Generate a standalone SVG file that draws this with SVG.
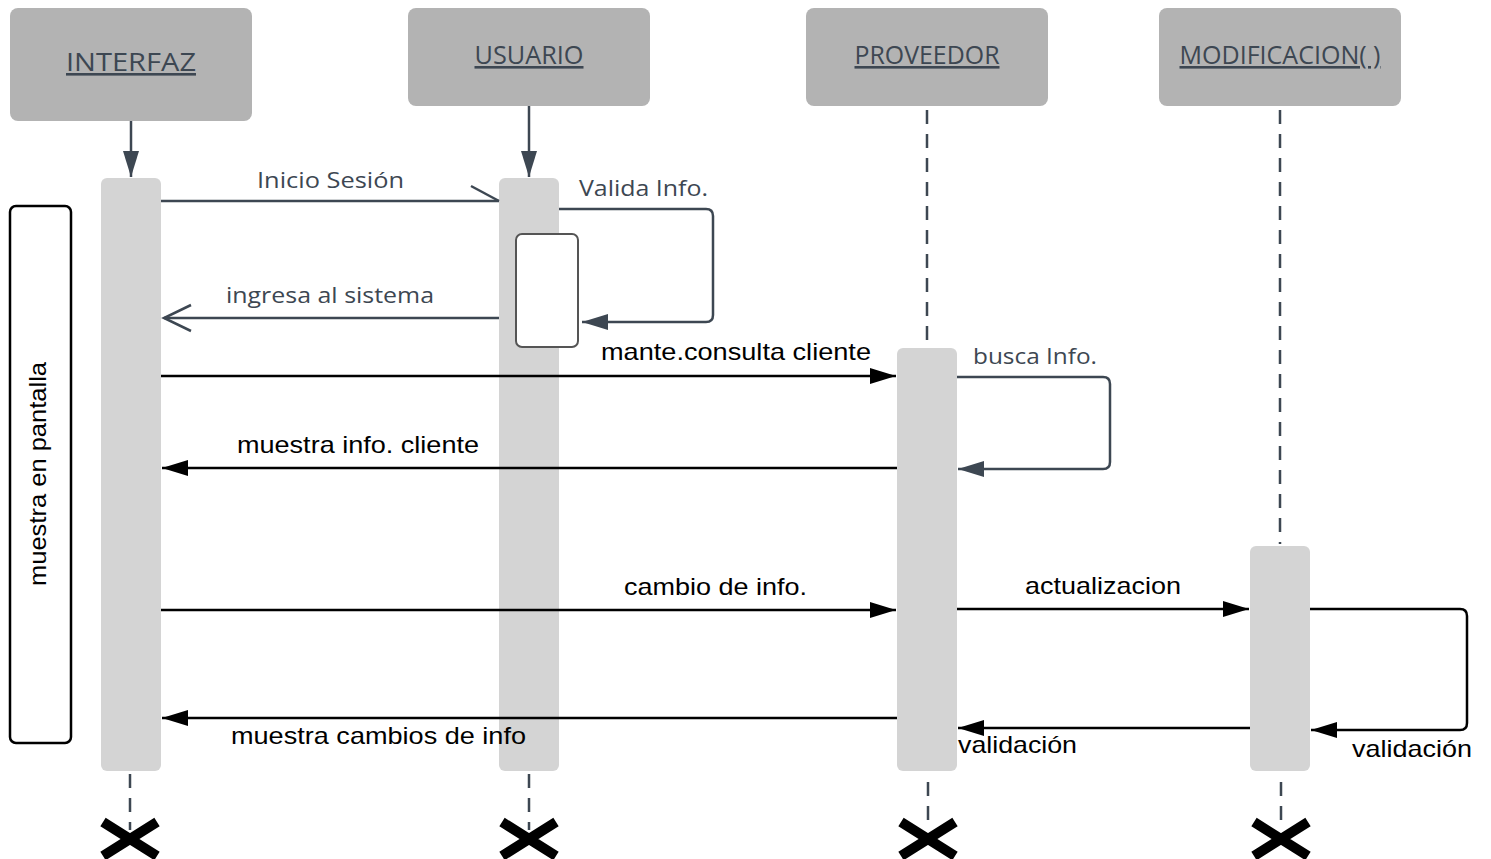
<svg xmlns="http://www.w3.org/2000/svg" width="1491" height="859" viewBox="0 0 1491 859">
<defs>
<style>
.hdr{fill:#b3b3b3}
.ht{font-family:"Open Sans","DejaVu Sans",sans-serif;font-size:26px;fill:#3d4752;text-anchor:middle;text-decoration:underline}
.act{fill:#d4d4d4}
.sl{font-family:"Open Sans","DejaVu Sans",sans-serif;font-size:22px;fill:#3d4752}
.bl{font-family:"Liberation Sans",Arial,sans-serif;font-size:24px;fill:#000}
.ls{stroke:#3d4752;stroke-width:2.5;fill:none}
.lb{stroke:#000;stroke-width:2.5;fill:none}
.dash{stroke:#3d4752;stroke-width:2.5;stroke-dasharray:14 10;fill:none}
</style>
<marker id="ab" markerWidth="28" markerHeight="18" refX="26" refY="9" orient="auto" markerUnits="userSpaceOnUse"><path d="M0,1 L26,9 L0,17 Z" fill="#000"/></marker>
<marker id="as" markerWidth="28" markerHeight="18" refX="26" refY="9" orient="auto" markerUnits="userSpaceOnUse"><path d="M0,1 L26,9 L0,17 Z" fill="#3d4752"/></marker>
</defs>
<rect width="1491" height="859" fill="#fff"/>

<g id="interfaz">
<rect class="hdr" x="10" y="8" width="242" height="113" rx="8"/>
<text class="ht" x="131" y="71" font-size="28" textLength="130" lengthAdjust="spacingAndGlyphs">INTERFAZ</text>
<rect class="act" x="101" y="178" width="60" height="593" rx="6"/>
</g>
<g id="usuario">
<rect class="hdr" x="408" y="8" width="242" height="98" rx="8"/>
<text class="ht" x="529" y="64" textLength="109" lengthAdjust="spacingAndGlyphs">USUARIO</text>
<rect class="act" x="499" y="178" width="60" height="593" rx="6"/>
<rect x="516" y="234" width="62" height="113" rx="6" fill="#fff" stroke="#555" stroke-width="2"/>
</g>
<g id="proveedor">
<rect class="hdr" x="806" y="8" width="242" height="98" rx="8"/>
<text class="ht" x="927" y="64" textLength="145" lengthAdjust="spacingAndGlyphs">PROVEEDOR</text>
<rect class="act" x="897" y="348" width="60" height="423" rx="6"/>
</g>
<g id="modificacion">
<rect class="hdr" x="1159" y="8" width="242" height="98" rx="8"/>
<text class="ht" x="1280" y="64" textLength="201" lengthAdjust="spacingAndGlyphs">MODIFICACION( )</text>
<rect class="act" x="1250" y="546" width="60" height="225" rx="6"/>
</g>
<g id="pantalla">
<rect x="10" y="206" width="61" height="537" rx="6" fill="#fff" stroke="#000" stroke-width="2.5"/>
<text class="bl" transform="translate(46,474) rotate(-90)" text-anchor="middle" textLength="224" lengthAdjust="spacingAndGlyphs">muestra en pantalla</text>
</g>

<g id="connectors">
<line class="ls" x1="131" y1="121" x2="131" y2="177" marker-end="url(#as)"/>
<line class="ls" x1="529" y1="106" x2="529" y2="177" marker-end="url(#as)"/>
<line class="dash" x1="927" y1="110" x2="927" y2="346"/>
<line class="dash" x1="1280" y1="110" x2="1280" y2="544"/>

<line class="ls" x1="161" y1="201" x2="499" y2="201"/>
<line class="ls" x1="471" y1="186" x2="499" y2="201"/>
<text class="sl" x="257" y="188" textLength="147" lengthAdjust="spacingAndGlyphs">Inicio Sesión</text>

<path class="ls" d="M559,209 H706 Q713,209 713,216 V315 Q713,322 706,322 H582" marker-end="url(#as)"/>
<text class="sl" x="579" y="196" textLength="129" lengthAdjust="spacingAndGlyphs">Valida Info.</text>

<line class="ls" x1="499" y1="318" x2="164" y2="318"/>
<path class="ls" d="M191,305 L164,318 L191,331"/>
<text class="sl" x="226" y="303" textLength="208" lengthAdjust="spacingAndGlyphs">ingresa al sistema</text>

<line class="lb" x1="161" y1="376" x2="896" y2="376" marker-end="url(#ab)"/>
<text class="bl" x="601" y="360" textLength="270" lengthAdjust="spacingAndGlyphs">mante.consulta cliente</text>

<path class="ls" d="M957,377 H1103 Q1110,377 1110,384 V462 Q1110,469 1103,469 H958" marker-end="url(#as)"/>
<text class="sl" x="973" y="364" textLength="124" lengthAdjust="spacingAndGlyphs">busca Info.</text>

<line class="lb" x1="897" y1="468" x2="162" y2="468" marker-end="url(#ab)"/>
<text class="bl" x="237" y="453" textLength="242" lengthAdjust="spacingAndGlyphs">muestra info. cliente</text>

<line class="lb" x1="161" y1="610" x2="896" y2="610" marker-end="url(#ab)"/>
<text class="bl" x="624" y="595" textLength="183" lengthAdjust="spacingAndGlyphs">cambio de info.</text>

<line class="lb" x1="957" y1="609" x2="1249" y2="609" marker-end="url(#ab)"/>
<text class="bl" x="1025" y="594" textLength="156" lengthAdjust="spacingAndGlyphs">actualizacion</text>

<path class="lb" d="M1310,609 H1460 Q1467,609 1467,616 V723 Q1467,730 1460,730 H1311" marker-end="url(#ab)"/>
<text class="bl" x="1352" y="757" textLength="120" lengthAdjust="spacingAndGlyphs">validación</text>

<line class="lb" x1="1250" y1="728" x2="958" y2="728" marker-end="url(#ab)"/>
<text class="bl" x="958" y="753" textLength="119" lengthAdjust="spacingAndGlyphs">validación</text>

<line class="lb" x1="897" y1="718" x2="162" y2="718" marker-end="url(#ab)"/>
<text class="bl" x="231" y="744" textLength="295" lengthAdjust="spacingAndGlyphs">muestra cambios de info</text>

<line class="dash" x1="130" y1="774" x2="130" y2="830"/>
<line class="dash" x1="529" y1="774" x2="529" y2="830"/>
<line class="dash" x1="928" y1="782" x2="928" y2="830"/>
<line class="dash" x1="1281" y1="782" x2="1281" y2="830"/>
</g>
<g id="ends" stroke="#000" stroke-width="10">
<path d="M103,822 L157,856 M157,822 L103,856"/>
<path d="M502,822 L556,856 M556,822 L502,856"/>
<path d="M901,822 L955,856 M955,822 L901,856"/>
<path d="M1254,822 L1308,856 M1308,822 L1254,856"/>
</g>
</svg>
